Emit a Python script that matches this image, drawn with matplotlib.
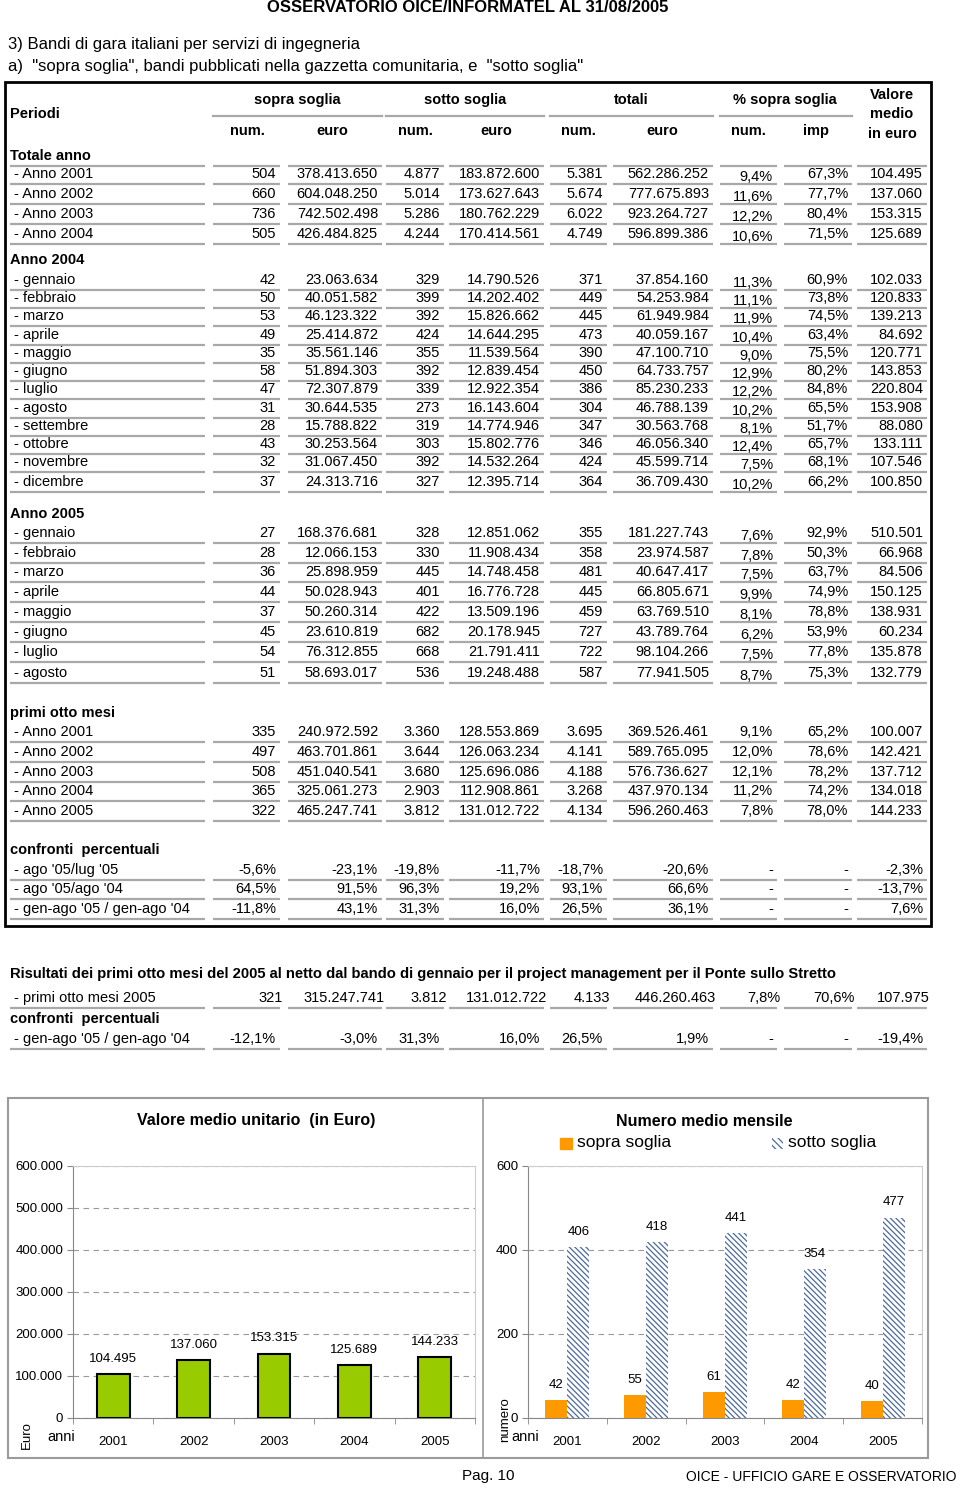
import matplotlib.pyplot as plt
from matplotlib.patches import Rectangle

plt.rcParams['font.family'] = ['Liberation Sans', 'DejaVu Sans']
plt.rcParams['hatch.linewidth'] = 0.9

# ---- table data ----
col_groups = ['sopra soglia', 'sotto soglia', 'totali', '% sopra soglia']
col_sub = ['num.', 'euro', 'num.', 'euro', 'num.', 'euro', 'num.', 'imp']

tot_lbl = ['- Anno 2001', '- Anno 2002', '- Anno 2003', '- Anno 2004']
tot_vals = [
    ['504', '378.413.650', '4.877', '183.872.600', '5.381', '562.286.252', '9,4%', '67,3%', '104.495'],
    ['660', '604.048.250', '5.014', '173.627.643', '5.674', '777.675.893', '11,6%', '77,7%', '137.060'],
    ['736', '742.502.498', '5.286', '180.762.229', '6.022', '923.264.727', '12,2%', '80,4%', '153.315'],
    ['505', '426.484.825', '4.244', '170.414.561', '4.749', '596.899.386', '10,6%', '71,5%', '125.689'],
]
mesi_lbl = ['- gennaio', '- febbraio', '- marzo', '- aprile', '- maggio', '- giugno',
            '- luglio', '- agosto', '- settembre', '- ottobre', '- novembre', '- dicembre']
mesi_2004 = [
    ['42', '23.063.634', '329', '14.790.526', '371', '37.854.160', '11,3%', '60,9%', '102.033'],
    ['50', '40.051.582', '399', '14.202.402', '449', '54.253.984', '11,1%', '73,8%', '120.833'],
    ['53', '46.123.322', '392', '15.826.662', '445', '61.949.984', '11,9%', '74,5%', '139.213'],
    ['49', '25.414.872', '424', '14.644.295', '473', '40.059.167', '10,4%', '63,4%', '84.692'],
    ['35', '35.561.146', '355', '11.539.564', '390', '47.100.710', '9,0%', '75,5%', '120.771'],
    ['58', '51.894.303', '392', '12.839.454', '450', '64.733.757', '12,9%', '80,2%', '143.853'],
    ['47', '72.307.879', '339', '12.922.354', '386', '85.230.233', '12,2%', '84,8%', '220.804'],
    ['31', '30.644.535', '273', '16.143.604', '304', '46.788.139', '10,2%', '65,5%', '153.908'],
    ['28', '15.788.822', '319', '14.774.946', '347', '30.563.768', '8,1%', '51,7%', '88.080'],
    ['43', '30.253.564', '303', '15.802.776', '346', '46.056.340', '12,4%', '65,7%', '133.111'],
    ['32', '31.067.450', '392', '14.532.264', '424', '45.599.714', '7,5%', '68,1%', '107.546'],
    ['37', '24.313.716', '327', '12.395.714', '364', '36.709.430', '10,2%', '66,2%', '100.850'],
]
mesi_2005 = [
    ['27', '168.376.681', '328', '12.851.062', '355', '181.227.743', '7,6%', '92,9%', '510.501'],
    ['28', '12.066.153', '330', '11.908.434', '358', '23.974.587', '7,8%', '50,3%', '66.968'],
    ['36', '25.898.959', '445', '14.748.458', '481', '40.647.417', '7,5%', '63,7%', '84.506'],
    ['44', '50.028.943', '401', '16.776.728', '445', '66.805.671', '9,9%', '74,9%', '150.125'],
    ['37', '50.260.314', '422', '13.509.196', '459', '63.769.510', '8,1%', '78,8%', '138.931'],
    ['45', '23.610.819', '682', '20.178.945', '727', '43.789.764', '6,2%', '53,9%', '60.234'],
    ['54', '76.312.855', '668', '21.791.411', '722', '98.104.266', '7,5%', '77,8%', '135.878'],
    ['51', '58.693.017', '536', '19.248.488', '587', '77.941.505', '8,7%', '75,3%', '132.779'],
]
otto_lbl = ['- Anno 2001', '- Anno 2002', '- Anno 2003', '- Anno 2004', '- Anno 2005']
otto_vals = [
    ['335', '240.972.592', '3.360', '128.553.869', '3.695', '369.526.461', '9,1%', '65,2%', '100.007'],
    ['497', '463.701.861', '3.644', '126.063.234', '4.141', '589.765.095', '12,0%', '78,6%', '142.421'],
    ['508', '451.040.541', '3.680', '125.696.086', '4.188', '576.736.627', '12,1%', '78,2%', '137.712'],
    ['365', '325.061.273', '2.903', '112.908.861', '3.268', '437.970.134', '11,2%', '74,2%', '134.018'],
    ['322', '465.247.741', '3.812', '131.012.722', '4.134', '596.260.463', '7,8%', '78,0%', '144.233'],
]
conf_lbl = ["- ago '05/lug '05", "- ago '05/ago '04", "- gen-ago '05 / gen-ago '04"]
conf_vals = [
    ['-5,6%', '-23,1%', '-19,8%', '-11,7%', '-18,7%', '-20,6%', '-', '-', '-2,3%'],
    ['64,5%', '91,5%', '96,3%', '19,2%', '93,1%', '66,6%', '-', '-', '-13,7%'],
    ['-11,8%', '43,1%', '31,3%', '16,0%', '26,5%', '36,1%', '-', '-', '7,6%'],
]
netto_lbl = '- primi otto mesi 2005'
netto_vals = ['321', '315.247.741', '3.812', '131.012.722', '4.133', '446.260.463', '7,8%', '70,6%', '107.975']
netto_conf_lbl = "- gen-ago '05 / gen-ago '04"
netto_conf = ['-12,1%', '-3,0%', '31,3%', '16,0%', '26,5%', '1,9%', '-', '-', '-19,4%']

# ---- chart data ----
anni = ['2001', '2002', '2003', '2004', '2005']
valore_medio = [104495, 137060, 153315, 125689, 144233]
num_sopra = [42, 55, 61, 42, 40]
num_sotto = [406, 418, 441, 354, 477]

# layout (pixels)
col_right = [276, 378, 440, 540, 603, 709, 773, 848, 923]
segs = [(10, 205), (213, 280), (288, 382), (386, 444), (449, 544),
        (550, 607), (613, 713), (720, 777), (784, 852), (857, 927)]
FS = 10.5
LINE_C = '#a8a8a8'

fig = plt.figure(figsize=(9.6, 14.88), dpi=100)
ax = fig.add_axes([0, 0, 1, 1])
ax.set_xlim(0, 960)
ax.set_ylim(1488, 0)
ax.axis('off')


def txt(x, y, s, ha='left', bold=False, size=FS, **kw):
    ax.text(x, y, s, ha=ha, va='center', fontsize=size,
            fontweight='bold' if bold else 'normal', **kw)


def underline(y, shift=0):
    for a, b in segs:
        ax.plot([a + shift, b + shift], [y, y], color=LINE_C, lw=1.6, solid_capstyle='butt')


def row(y, label, vals, pct_drop=0, shift=0):
    txt(14, y, label)
    for i, (xr, v) in enumerate(zip(col_right, vals)):
        dy = pct_drop if i == 6 else 0
        txt(xr + shift, y + dy, v, ha='right')
    underline(y + 10)


def section(y, title):
    txt(10, y, title, bold=True)


# page header
txt(468, 8, 'OSSERVATORIO OICE/INFORMATEL AL 31/08/2005', ha='center', bold=True, size=12)
txt(8, 45, '3) Bandi di gara italiani per servizi di ingegneria', size=12)
txt(8, 66, 'a)  "sopra soglia", bandi pubblicati nella gazzetta comunitaria, e  "sotto soglia"', size=12)

# table frame
ax.add_patch(Rectangle((5, 82), 926, 844, fill=False, edgecolor='black', lw=2))

# header
txt(10, 114, 'Periodi', bold=True)
for cx, g in zip([297, 465, 631, 785], col_groups):
    txt(cx, 100, g, ha='center', bold=True)
for a, b in [(213, 382), (386, 544), (550, 713), (720, 852)]:
    ax.plot([a, b], [116, 116], color=LINE_C, lw=1.6)
for cx, s in zip([247, 332, 415, 496, 578, 662, 748, 816], col_sub):
    txt(cx, 131, s, ha='center', bold=True)
txt(892, 95, 'Valore', ha='center', bold=True)
txt(892, 114, 'medio', ha='center', bold=True)
txt(892, 134, 'in euro', ha='center', bold=True)

section(156, 'Totale anno')
underline(166)
for y, l, v in zip([174, 194, 214, 234], tot_lbl, tot_vals):
    row(y, l, v, pct_drop=3)

section(260, 'Anno 2004')
for y, l, v in zip([280, 298, 316, 335, 353, 371, 389, 408, 426, 444, 462, 482], mesi_lbl, mesi_2004):
    row(y, l, v, pct_drop=3)

section(514, 'Anno 2005')
for y, l, v in zip([533, 553, 572, 592, 612, 632, 652, 673], mesi_lbl, mesi_2005):
    row(y, l, v, pct_drop=3)

section(713, 'primi otto mesi')
for y, l, v in zip([732, 752, 772, 791, 811], otto_lbl, otto_vals):
    row(y, l, v)

section(850, 'confronti  percentuali')
for y, l, v in zip([870, 889, 909], conf_lbl, conf_vals):
    row(y, l, v)

# netto section
txt(10, 974, 'Risultati dei primi otto mesi del 2005 al netto dal bando di gennaio per il project management per il Ponte sullo Stretto', bold=True, size=10.6)
row(998, netto_lbl, netto_vals, shift=7)
section(1019, 'confronti  percentuali')
row(1039, netto_conf_lbl, netto_conf)

# chart frame
ax.add_patch(Rectangle((8, 1098), 920, 360, fill=False, edgecolor='#9a9a9a', lw=1.5))
ax.plot([483, 483], [1098, 1458], color='#9a9a9a', lw=1.2)

# footer
txt(462, 1476, 'Pag. 10', size=11)
txt(957, 1477, 'OICE - UFFICIO GARE E OSSERVATORIO', ha='right', size=10)


def fig_rect(x0, y0, x1, y1):
    return [x0 / 960, 1 - y1 / 1488, (x1 - x0) / 960, (y1 - y0) / 1488]


def style_axes(a):
    a.set_xlim(-0.5, 4.5)
    a.set_xticks(range(5))
    a.set_xticklabels(anni, fontsize=9.5)
    a.set_xticks([i - 0.5 for i in range(6)], minor=True)
    a.tick_params(axis='x', which='major', length=0, pad=13)
    a.tick_params(axis='x', which='minor', length=4, color='#888888')
    a.tick_params(axis='y', length=4, color='#888888', labelsize=9.5, pad=3)
    for s in ['left', 'bottom']:
        a.spines[s].set_color('#888888')
    for s in ['top', 'right']:
        a.spines[s].set_color('#cccccc')
        a.spines[s].set_linewidth(0.8)
    a.yaxis.grid(True, linestyle=(0, (5, 4)), color='#999999', lw=0.8)
    a.set_axisbelow(True)


# left chart: valore medio
ax1 = fig.add_axes(fig_rect(73, 1166, 475, 1418))
x = list(range(len(anni)))
ax1.bar(x, valore_medio, width=0.41, color='#99cc00', edgecolor='black', lw=1.5)
ax1.set_ylim(0, 600000)
ax1.set_yticks(range(0, 600001, 100000))
ax1.set_yticklabels([f'{v:,}'.replace(',', '.') for v in range(0, 600001, 100000)])
style_axes(ax1)
for xi, v in zip(x, valore_medio):
    ax1.annotate(f'{v:,}'.replace(',', '.'), (xi, v), xytext=(0, 11), textcoords='offset points',
                 ha='center', va='center', fontsize=9.5)
txt(256, 1121, 'Valore medio unitario  (in Euro)', ha='center', bold=True, size=11.5)
txt(47, 1437, 'anni', size=10.5)
ax.text(27, 1435, 'Euro', rotation=90, ha='center', va='center', fontsize=9.5)

# right chart: numero medio mensile
ax2 = fig.add_axes(fig_rect(528, 1166, 922, 1418))
ax2.bar([i - 0.14 for i in x], num_sopra, width=0.28, color='#ff9900', lw=0)
ax2.bar([i + 0.14 for i in x], num_sotto, width=0.28, color='white', edgecolor='#4d6a9c',
        hatch='\\' * 6, lw=0)
ax2.set_ylim(0, 600)
ax2.set_yticks([0, 200, 400, 600])
style_axes(ax2)
for xi, v in zip(x, num_sopra):
    ax2.annotate(str(v), (xi - 0.14, v), xytext=(0, 11), textcoords='offset points',
                 ha='center', va='center', fontsize=9.5)
for xi, v in zip(x, num_sotto):
    ax2.annotate(str(v), (xi + 0.14, v), xytext=(0, 11), textcoords='offset points',
                 ha='center', va='center', fontsize=9.5)
txt(704, 1121, 'Numero medio mensile', ha='center', bold=True, size=11.5)
ax.add_patch(Rectangle((560, 1138), 12, 11, color='#ff9900'))
ax.add_patch(Rectangle((772, 1138), 11, 11, facecolor='white', edgecolor='#4d6a9c',
                       hatch='\\' * 5, lw=0))
txt(577, 1143, 'sopra soglia', size=12.5)
txt(788, 1143, 'sotto soglia', size=12.5)
txt(511, 1437, 'anni', size=10.5)
ax.text(505, 1420, 'numero', rotation=90, ha='center', va='center', fontsize=9.5)

fig.savefig('out.png', dpi=100)
